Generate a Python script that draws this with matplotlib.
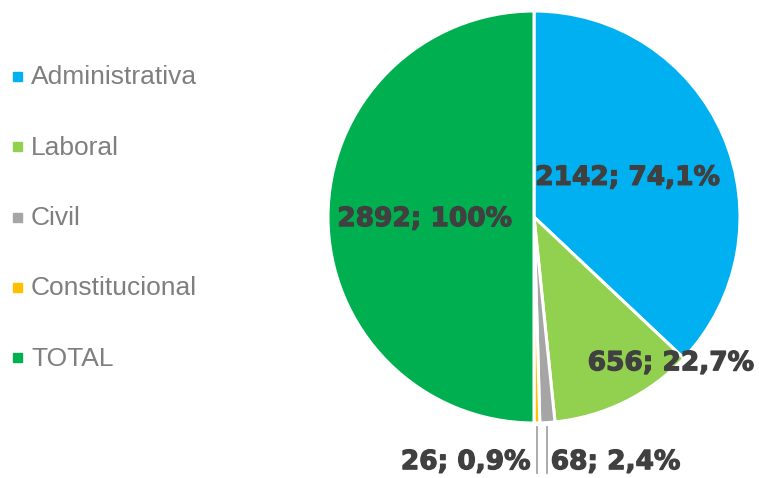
import matplotlib
matplotlib.use("Agg")
import matplotlib.pyplot as plt
import matplotlib.patheffects as pe
import numpy as np

categories = ["Administrativa", "Laboral", "Civil", "Constitucional", "TOTAL"]
values = [2142, 656, 68, 26, 2892]
pct_labels = ["74,1%", "22,7%", "2,4%", "0,9%", "100%"]
colors = ["#00B0F0", "#92D050", "#A5A5A5", "#FFC000", "#00B050"]

W, H = 759, 478
fig = plt.figure(figsize=(W / 100, H / 100), dpi=100)
cx, cy, r = 534, 217, 206
ax = fig.add_axes([(cx - r) / W, (H - cy - r) / H, 2 * r / W, 2 * r / H])
wedges, _ = ax.pie(values, colors=colors, startangle=90, counterclock=False,
                   wedgeprops=dict(edgecolor="white", linewidth=2.2))
ax.set_xlim(-1, 1)
ax.set_ylim(-1, 1)
ax.set_aspect("equal")
ax.axis("off")

stroke = [pe.withStroke(linewidth=0.9, foreground="#404040")]
lab_font = dict(family="DejaVu Sans", fontweight="bold", fontsize=19, color="#404040",
                path_effects=stroke)
texts = [f"{v}; {p}" for v, p in zip(values, pct_labels)]

# label placements (data coords relative to unit pie)
ax.text(0.455, 0.19, texts[0], ha="center", va="center", **lab_font)
ax.text(0.665, -0.71, texts[1], ha="center", va="center", **lab_font)
ax.text(-0.53, -0.01, texts[4], ha="center", va="center", **lab_font)

# small slices with vertical leader lines
total = sum(values)
cum = np.cumsum([0] + values)
for i, ha, dx in [(2, "left", 0.016), (3, "right", -0.03)]:
    mid = 90 - (cum[i] + values[i] / 2) / total * 360
    x = np.cos(np.radians(mid))
    ax.plot([x, x], [-1.02, -1.245], color="#A5A5A5", lw=1.3, clip_on=False)
    ax.text(x + dx, -1.19, texts[i], ha=ha, va="center", **lab_font)

# legend
leg_font = dict(family="Liberation Sans", fontsize=19, color="#7F7F7F")
y0, dy = 76.5, 70.25
for k, (c, name) in enumerate(zip(colors, categories)):
    y = y0 + k * dy
    fig.patches.append(plt.Rectangle((13 / W, 1 - (y + 4.5) / H), 9 / W, 9 / H,
                                     transform=fig.transFigure, color=c, figure=fig))
    fig.text(31 / W, 1 - (y + 1) / H, name, ha="left", va="center", **leg_font)

fig.savefig("out.png", dpi=100)
